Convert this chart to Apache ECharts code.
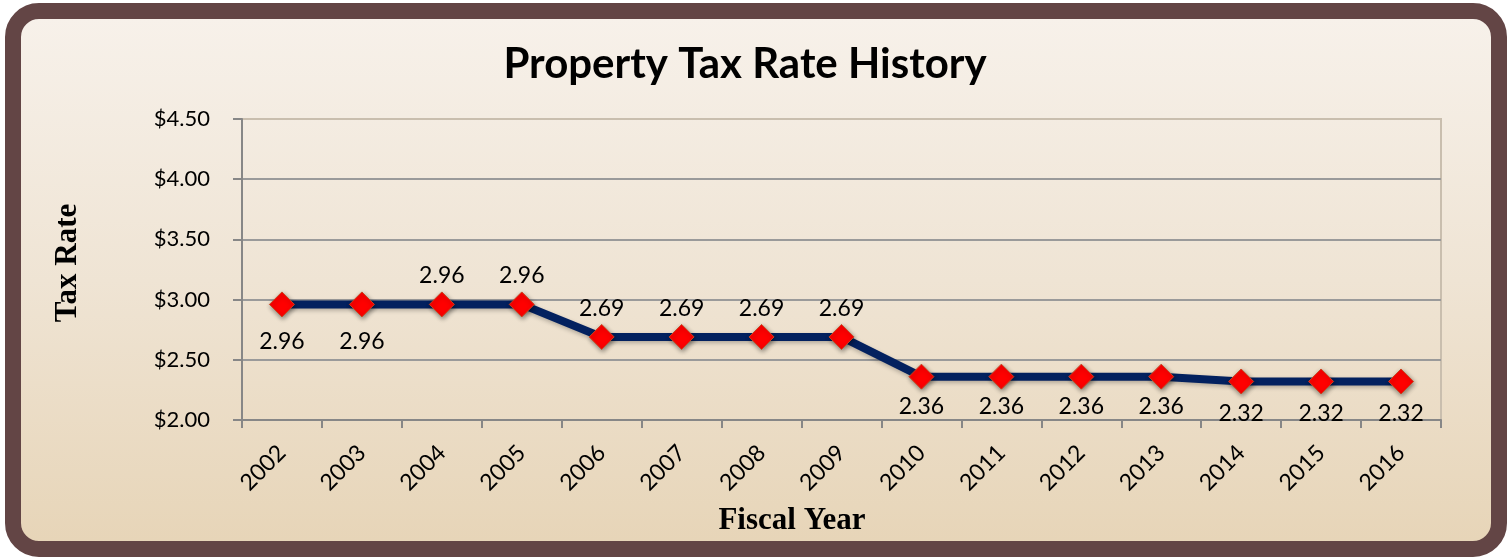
<!DOCTYPE html>
<html>
<head>
<meta charset="utf-8">
<script src="https://cdn.jsdelivr.net/npm/echarts@6/dist/echarts.min.js"></script>
<style>
  html, body { margin: 0; padding: 0; width: 1507px; height: 557px; overflow: hidden; background: #ffffff; }
  #frame {
    position: absolute; left: 5px; top: 3px; width: 1502px; height: 554px;
    box-sizing: border-box; border: 16px solid #634545; border-radius: 34px;
    background: linear-gradient(to bottom, #f7f1ea 0%, #efe4d4 50%, #e7d5b8 100%);
  }
  #chart { position: absolute; left: 0; top: 0; width: 1507px; height: 557px; }
</style>
</head>
<body>
<div id="frame"></div>
<div id="chart"></div>
<script>
const years = ['2002','2003','2004','2005','2006','2007','2008','2009','2010','2011','2012','2013','2014','2015','2016'];
const taxRates = [2.96, 2.96, 2.96, 2.96, 2.69, 2.69, 2.69, 2.69, 2.36, 2.36, 2.36, 2.36, 2.32, 2.32, 2.32];
const yTicks = [2.0, 2.5, 3.0, 3.5, 4.0, 4.5];

// label placement (style only)
const labelSide = ['bottom','bottom','top','top','top','top','top','top','bottom','bottom','bottom','bottom','bottom','bottom','bottom'];

const chart = echarts.init(document.getElementById('chart'), null, { renderer: 'canvas' });
const FONT = 'Lato, "Open Sans", sans-serif';
const SERIF = '"Liberation Serif", "DejaVu Serif", serif';

const seriesData = taxRates.map((v, i) => ({
  value: v,
  label: {
    position: labelSide[i],
    distance: labelSide[i] === 'top' ? 4 : (i < 2 ? 13 : (i >= 12 ? 8 : 5))
  }
}));

chart.setOption({
  backgroundColor: 'transparent',
  animation: false,
  title: {
    text: 'Property Tax Rate History',
    left: 740, top: 38, textAlign: 'center',
    textStyle: { fontFamily: FONT, fontWeight: 'bold', fontSize: 42, color: '#000' }
  },
  grid: {
    left: 242, right: 66, top: 119, bottom: 137,
    show: true, borderColor: '#c9beae', borderWidth: 2, backgroundColor: 'transparent'
  },
  xAxis: {
    type: 'category',
    data: years,
    boundaryGap: true,
    axisLine: { show: true, lineStyle: { color: '#878787', width: 2 } },
    axisTick: { show: true, length: 8, lineStyle: { color: '#878787', width: 2 } },
    axisLabel: { rotate: 45, margin: 29, fontFamily: FONT, fontSize: 23, color: '#000' }
  },
  yAxis: {
    type: 'value',
    min: yTicks[0], max: yTicks[yTicks.length - 1], interval: 0.5,
    axisLine: { show: true, lineStyle: { color: '#878787', width: 2 } },
    axisTick: { show: true, length: 9, lineStyle: { color: '#878787', width: 2 } },
    axisLabel: {
      margin: 32, fontFamily: FONT, fontSize: 22, color: '#000',
      formatter: v => '$' + v.toFixed(2)
    },
    splitLine: { show: true, showMaxLine: false, lineStyle: { color: '#9a9a9a', width: 2 } }
  },
  graphic: [
    {
      type: 'text', x: 68, y: 263, rotation: Math.PI / 2,
      style: { text: 'Tax Rate', fontFamily: SERIF, fontWeight: 'bold', fontSize: 31, fill: '#000', align: 'center', verticalAlign: 'middle' }
    },
    {
      type: 'text', x: 792, y: 521,
      style: { text: 'Fiscal Year', fontFamily: SERIF, fontWeight: 'bold', fontSize: 31, fill: '#000', align: 'center', verticalAlign: 'middle' }
    }
  ],
  series: [{
    type: 'line',
    data: seriesData,
    symbol: 'diamond',
    symbolSize: 25,
    lineStyle: { color: '#03215f', width: 8, shadowColor: 'rgba(0,0,0,0.25)', shadowBlur: 4, shadowOffsetY: 2 },
    itemStyle: { color: '#ff0000', borderColor: '#c8431f', borderWidth: 1, shadowColor: 'rgba(0,0,0,0.45)', shadowBlur: 5, shadowOffsetX: 1, shadowOffsetY: 2 },
    label: { show: true, fontFamily: FONT, fontSize: 23, color: '#000', formatter: p => p.value.toFixed(2) },
    z: 3
  }]
});
</script>
</body>
</html>
